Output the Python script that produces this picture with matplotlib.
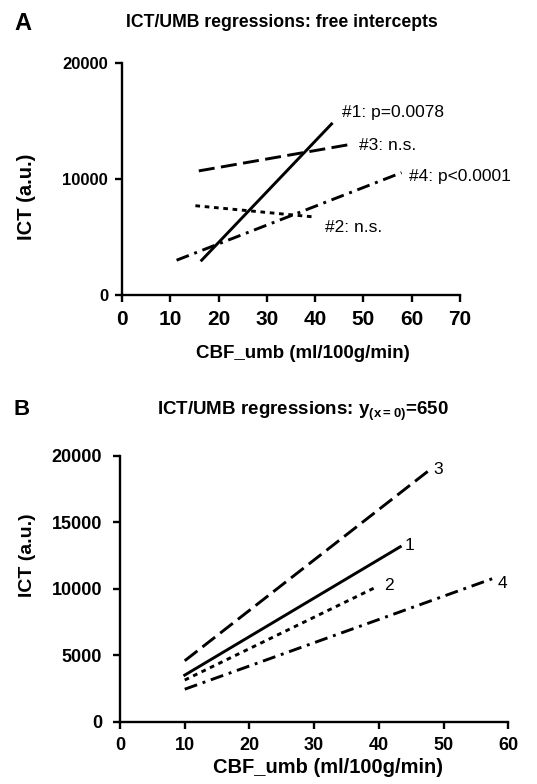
import matplotlib
matplotlib.use("Agg")
import matplotlib.pyplot as plt

plt.rcParams['font.family'] = ['Liberation Sans', 'DejaVu Sans']
plt.rcParams['mathtext.fontset'] = 'custom'
plt.rcParams['mathtext.rm'] = 'Liberation Sans'
plt.rcParams['mathtext.bf'] = 'Liberation Sans:bold'

# panel A: regression lines with free intercepts (start / end points)
freeNames = ["#1: p=0.0078", "#2: n.s.", "#3: n.s.", "#4: p<0.0001"]
freeX = [[16.5, 43.4], [15.2, 39.3], [15.9, 47.5], [11.3, 57.9]]
freeY = [[3000, 14750], [7700, 6750], [10700, 13000], [3000, 10550]]

# panel B: regression lines forced through y(x=0)=650
fixedNames = ["1", "2", "3", "4"]
fixedX = [[10, 43.3], [10, 39.7], [10, 47.9], [10, 57.7]]
fixedY = [[3500, 13150], [3130, 10150], [4580, 18950], [2440, 10780]]

dashStyles = ['-', (0, (1.6, 1.6)), (0, (5.5, 2.2)), (0, (4.5, 2.0, 1.0, 2.0))]
lineWidth = 2.1


def styleAxes(ax, xTickSize, yTickSize, yPad):
    for side in ['top', 'right']:
        ax.spines[side].set_visible(False)
    for side in ['left', 'bottom']:
        ax.spines[side].set_linewidth(1.7)
    ax.tick_params(axis='both', direction='out', length=5, width=1.7)
    ax.tick_params(axis='x', pad=6, labelsize=xTickSize)
    ax.tick_params(axis='y', pad=yPad, labelsize=yTickSize)
    for label in ax.get_xticklabels() + ax.get_yticklabels():
        label.set_fontweight('bold')


fig = plt.figure(figsize=(5.37, 7.84), dpi=100)

# ---- panel A
axA = fig.add_axes([0.2272, 0.6237, 0.6294, 0.2959])
for index in range(4):
    axA.plot(freeX[index], freeY[index], color='black', linewidth=lineWidth,
             linestyle=dashStyles[index], clip_on=False)
axA.set_xlim(0, 70)
axA.set_ylim(0, 20000)
axA.set_xticks(range(0, 71, 10))
axA.set_yticks([0, 10000, 20000])
styleAxes(axA, 15, 12, 5)
axA.set_xlabel("CBF_umb (ml/100g/min)", fontsize=13.5, fontweight='bold')
axA.set_ylabel("ICT (a.u.)", fontsize=14.5, fontweight='bold')
axA.xaxis.set_label_coords(0.535, -0.216)
axA.yaxis.set_label_coords(-0.254, 0.425)

# label positions (data coords) next to line ends
labelPosA = [(45.5, 15700), (42.0, 5800), (49.0, 12900), (59.5, 10250)]
for name, pos in zip(freeNames, labelPosA):
    axA.text(pos[0], pos[1], name, fontsize=12.5, va='center', ha='left')

fig.text(0.026, 1 - 30 / 784, "A", fontsize=17, fontweight='bold', va='baseline')
fig.text(281.7 / 537, 1 - 27 / 784, "ICT/UMB regressions: free intercepts",
         fontsize=12.7, fontweight='bold', ha='center', va='baseline')

# ---- panel B
axB = fig.add_axes([0.2235, 0.0795, 0.7231, 0.3393])
for index in range(4):
    axB.plot(fixedX[index], fixedY[index], color='black', linewidth=lineWidth,
             linestyle=dashStyles[index], clip_on=False)
axB.set_xlim(0, 60)
axB.set_ylim(0, 20000)
axB.set_xticks(range(0, 61, 10))
axB.set_yticks(range(0, 20001, 5000))
styleAxes(axB, 13, 13, 8)
axB.set_xlabel("CBF_umb (ml/100g/min)", fontsize=14.5, fontweight='bold')
axB.set_ylabel("ICT (a.u.)", fontsize=14, fontweight='bold')
axB.xaxis.set_label_coords(0.536, -0.136)
axB.yaxis.set_label_coords(-0.216, 0.627)

labelPosB = [(44.0, 13280), (40.8, 10250), (48.4, 18925), (58.4, 10400)]
for name, pos in zip(fixedNames, labelPosB):
    axB.text(pos[0], pos[1], name, fontsize=12.5, va='center', ha='left')

fig.text(0.026, 1 - 415 / 784, "B", fontsize=16, fontweight='bold', va='baseline')
fig.text(302.5 / 537, 1 - 415 / 784,
         r"ICT/UMB regressions: $\mathbf{y}_{\mathbf{(x=0)}}$=650",
         fontsize=13.5, fontweight='bold', ha='center', va='baseline')

fig.savefig("out.png", dpi=100)
